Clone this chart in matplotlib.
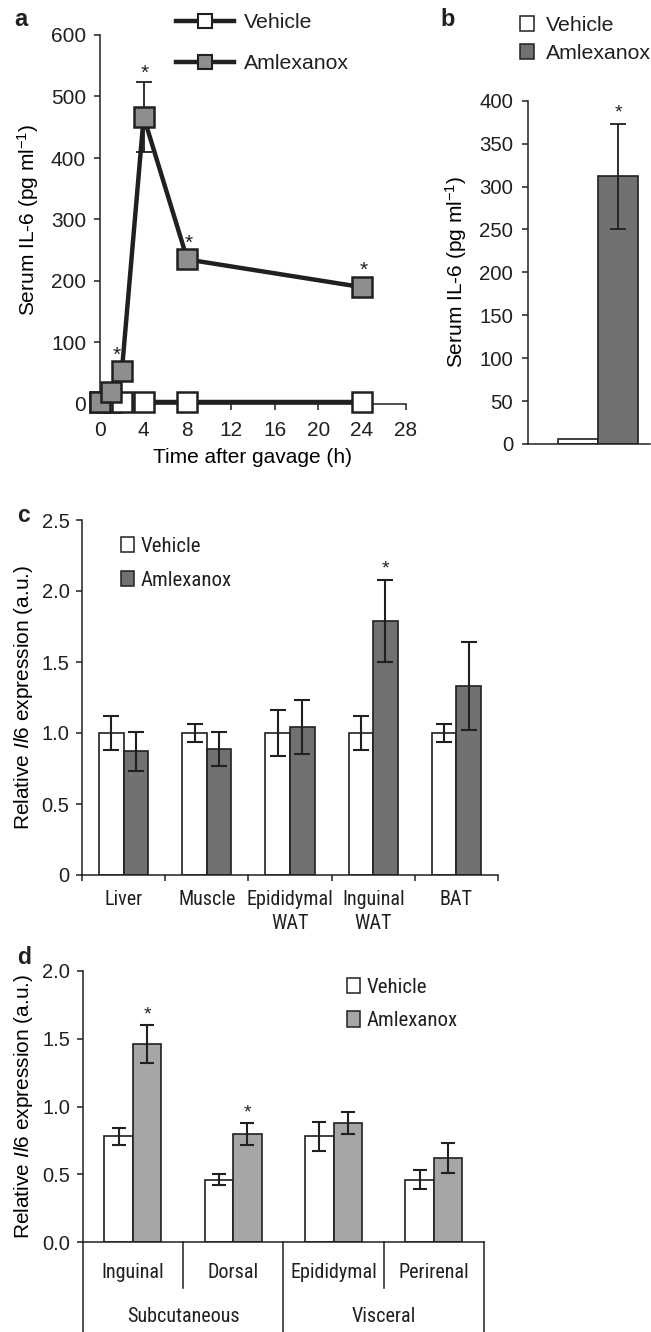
import matplotlib
matplotlib.use("Agg")
import matplotlib.pyplot as plt
from matplotlib.lines import Line2D
from matplotlib.patches import Patch
import numpy as np

W, H = 651, 1332
INK = '#231f20'
REG = ['Liberation Sans', 'DejaVu Sans']
NAR = ['Roboto Condensed', 'Liberation Sans', 'DejaVu Sans']

plt.rcParams['font.family'] = REG
plt.rcParams['mathtext.fontset'] = 'custom'
plt.rcParams['mathtext.it'] = 'Liberation Sans:italic'
plt.rcParams['mathtext.rm'] = 'Liberation Sans'
plt.rcParams['text.color'] = INK
plt.rcParams['axes.edgecolor'] = INK
plt.rcParams['xtick.color'] = INK
plt.rcParams['ytick.color'] = INK

# ---- data ----
# panel a: time course
time_h = [0, 1, 2, 4, 8, 24]
veh_a = [4, 4, 4, 4, 4, 4]
veh_a_err = [1, 1, 1, 1, 1, 1]
aml_a = [3, 20, 53, 467, 235, 190]
aml_a_err = [2, 5, 8, 57, 10, 10]
star_a = [2, 4, 8, 24]

# panel b: serum IL-6
groups_b = ['Vehicle', 'Amlexanox']
vals_b = [6, 312]
err_b = [0, 61]

# panel c: tissues
tissues_c = ['Liver', 'Muscle', 'Epididymal\nWAT', 'Inguinal\nWAT', 'BAT']
veh_c = [1.0, 1.0, 1.0, 1.0, 1.0]
veh_c_err = [0.12, 0.065, 0.16, 0.12, 0.065]
aml_c = [0.87, 0.89, 1.04, 1.79, 1.33]
aml_c_err = [0.14, 0.12, 0.19, 0.29, 0.31]

# panel d: fat depots
depots_d = ['Inguinal', 'Dorsal', 'Epididymal', 'Perirenal']
depot_types = ['Subcutaneous', 'Visceral']
veh_d = [0.78, 0.46, 0.78, 0.46]
veh_d_err = [0.06, 0.04, 0.11, 0.07]
aml_d = [1.46, 0.80, 0.88, 0.62]
aml_d_err = [0.14, 0.08, 0.08, 0.11]


def box(l, t, r, b):
    return [l / W, 1 - b / H, (r - l) / W, (b - t) / H]


def style_ax(ax, fs, pad=6):
    for s in ['top', 'right']:
        ax.spines[s].set_visible(False)
    for s in ['left', 'bottom']:
        ax.spines[s].set_linewidth(1.1)
    ax.tick_params(direction='out', length=4, width=1.1, labelsize=fs, pad=pad)


fig = plt.figure(figsize=(W / 100, H / 100), dpi=100)

# ================= a =================
ax = fig.add_axes(box(100, 35, 405.7, 404))
style_ax(ax, 15)
ax.tick_params(axis='x', pad=8)
ax.set_xlim(0, 28)
ax.set_ylim(0, 600)
ax.set_xticks(range(0, 29, 4))
ax.set_yticks(range(0, 601, 100))
ax.plot(time_h, veh_a, color=INK, lw=3.2, marker='s', ms=14, mfc='white',
        mec=INK, mew=1.8, clip_on=False, zorder=3)
ax.errorbar(time_h, aml_a, yerr=aml_a_err, fmt='none', ecolor=INK, elinewidth=1.3,
            capsize=6, capthick=1.3, zorder=3.5, clip_on=False)
ax.plot(time_h, aml_a, color=INK, lw=3.2, marker='s', ms=14, mfc='#8e8e8e',
        mec=INK, mew=1.8, clip_on=False, zorder=4)
for t in star_a:
    i = time_h.index(t)
    top = aml_a[i] + aml_a_err[i] if t == 4 else aml_a[i]
    dx = -4 if t == 2 else 1
    ax.annotate('*', (t, top), xytext=(dx, -1 if t == 4 else 5), textcoords='offset points',
                ha='center', va='bottom', fontsize=15)
ax.set_xlabel('Time after gavage (h)', fontsize=15, labelpad=6)
ax.set_ylabel('Serum IL-6 (pg ml$^{-1}$)', fontsize=15, labelpad=7)
h_a = [Line2D([], [], color=INK, lw=3.2, marker='s', ms=10, mfc='white', mec=INK, mew=1.5),
       Line2D([], [], color=INK, lw=3.2, marker='s', ms=10, mfc='#8e8e8e', mec=INK, mew=1.5)]
fig.legend(h_a, ['Vehicle', 'Amlexanox'], loc='upper left',
           bbox_to_anchor=(176 / W, 1 - 13 / H), frameon=False, fontsize=15.3,
           handlelength=2.75, handletextpad=0.45, labelspacing=1.05, borderpad=0,
           borderaxespad=0, numpoints=1)
fig.text(14 / W, 1 - 20 / H, 'a', fontsize=17, fontweight='bold', va='center')

# ================= b =================
ax = fig.add_axes(box(528.3, 100.7, 650, 444))
style_ax(ax, 14.7, pad=7)
ax.set_xlim(-1.25, 1.79)
ax.set_ylim(0, 400)
ax.set_yticks(range(0, 401, 50))
ax.set_xticks([])
ax.bar([0, 1], vals_b, width=1, color=['white', '#717171'], edgecolor=INK, linewidth=1.2)
ax.errorbar([1], vals_b[1:], yerr=err_b[1:], fmt='none', ecolor=INK, elinewidth=1.3,
            capsize=6, capthick=1.3)
ax.annotate('*', (1, vals_b[1] + err_b[1]), xytext=(0, 2), textcoords='offset points',
            ha='center', va='bottom', fontsize=14)
ax.set_ylabel('Serum IL-6 (pg ml$^{-1}$)', fontsize=15, labelpad=7)
h_b = [Patch(facecolor='white', edgecolor=INK, lw=1.1),
       Patch(facecolor='#717171', edgecolor=INK, lw=1.1)]
fig.legend(h_b, groups_b, loc='upper left', bbox_to_anchor=(520 / W, 1 - 16 / H),
           frameon=False, fontsize=15.3, handlelength=0.65, handleheight=0.65,
           handletextpad=0.55, labelspacing=0.42, borderpad=0, borderaxespad=0)
fig.text(440 / W, 1 - 20 / H, 'b', fontsize=17, fontweight='bold', va='center')

# ================= c =================
ax = fig.add_axes(box(82, 520, 498, 875))
style_ax(ax, 14.5, pad=5)
ax.set_xlim(0, 5)
ax.set_ylim(0, 2.5)
ax.set_yticks([0, 0.5, 1.0, 1.5, 2.0, 2.5])
ax.set_yticklabels(['0', '0.5', '1.0', '1.5', '2.0', '2.5'])
ax.set_xticks(range(0, 6))
ax.set_xticklabels([])
xc = np.arange(len(tissues_c)) + 0.5
ax.set_xticks(xc, minor=True)
ax.set_xticklabels(tissues_c, minor=True, family=NAR, fontsize=14.5, linespacing=1.3)
ax.tick_params(axis='x', which='minor', length=0, pad=11)
bw = 0.295
ax.bar(xc - bw / 2, veh_c, width=bw, color='white', edgecolor=INK, linewidth=1.2)
ax.bar(xc + bw / 2, aml_c, width=bw, color='#717171', edgecolor=INK, linewidth=1.2)
ax.errorbar(xc - bw / 2, veh_c, yerr=veh_c_err, fmt='none', ecolor=INK, elinewidth=1.5,
            capsize=5.5, capthick=1.5)
ax.errorbar(xc + bw / 2, aml_c, yerr=aml_c_err, fmt='none', ecolor=INK, elinewidth=1.5,
            capsize=5.5, capthick=1.5)
ax.annotate('*', (xc[3] + bw / 2, aml_c[3] + aml_c_err[3]), xytext=(0, 1.5),
            textcoords='offset points', ha='center', va='bottom', fontsize=14)
ax.set_ylabel('Relative $\\it{Il6}$ expression (a.u.)', fontsize=15, labelpad=5)
h_c = [Patch(facecolor='white', edgecolor=INK, lw=1.1),
       Patch(facecolor='#717171', edgecolor=INK, lw=1.1)]
ax.legend(h_c, ['Vehicle', 'Amlexanox'], loc='upper left',
          bbox_to_anchor=(121 / W, 1 - 537 / H), bbox_transform=fig.transFigure,
          frameon=False, prop={'family': NAR, 'size': 15}, handlelength=0.6,
          handleheight=0.75, handletextpad=0.35, labelspacing=0.72, borderpad=0,
          borderaxespad=0)
fig.text(17 / W, 1 - 516 / H, 'c', fontsize=16.5, fontweight='bold', va='center')

# ================= d =================
ax = fig.add_axes(box(82.7, 971, 484, 1242.3))
style_ax(ax, 14.5, pad=5)
ax.set_xlim(0, 4)
ax.set_ylim(0, 2.0)
ax.set_yticks([0, 0.5, 1.0, 1.5, 2.0])
ax.set_yticklabels(['0.0', '0.5', '1.0', '1.5', '2.0'])
ax.set_xticks([])
xd = np.arange(len(depots_d)) + 0.5
bw = 0.285
ax.bar(xd - bw / 2, veh_d, width=bw, color='white', edgecolor=INK, linewidth=1.2)
ax.bar(xd + bw / 2, aml_d, width=bw, color='#a6a6a6', edgecolor=INK, linewidth=1.2)
ax.errorbar(xd - bw / 2, veh_d, yerr=veh_d_err, fmt='none', ecolor=INK, elinewidth=1.5,
            capsize=5, capthick=1.5)
ax.errorbar(xd + bw / 2, aml_d, yerr=aml_d_err, fmt='none', ecolor=INK, elinewidth=1.5,
            capsize=5, capthick=1.5)
for i in [0, 1]:
    ax.annotate('*', (xd[i] + bw / 2, aml_d[i] + aml_d_err[i]), xytext=(0, 1),
                textcoords='offset points', ha='center', va='bottom', fontsize=14)
ax.set_ylabel('Relative $\\it{Il6}$ expression (a.u.)', fontsize=15, labelpad=5)
# category table under the axis
tr = ax.get_xaxis_transform()
for x in [0, 2, 4]:
    ax.plot([x, x], [0, -0.34], transform=tr, color=INK, lw=1.1, clip_on=False)
for x in [1, 3]:
    ax.plot([x, x], [0, -0.168], transform=tr, color=INK, lw=1.1, clip_on=False)
for x, lab in zip(xd, depots_d):
    ax.text(x, -0.11, lab, transform=tr, ha='center', va='center', family=NAR,
            fontsize=14.5)
for x, lab in zip([1, 3], depot_types):
    ax.text(x, -0.275, lab, transform=tr, ha='center', va='center', family=NAR,
            fontsize=14.5)
h_d = [Patch(facecolor='white', edgecolor=INK, lw=1.1),
       Patch(facecolor='#a6a6a6', edgecolor=INK, lw=1.1)]
ax.legend(h_d, ['Vehicle', 'Amlexanox'], loc='upper left',
          bbox_to_anchor=(347 / W, 1 - 978 / H), bbox_transform=fig.transFigure,
          frameon=False, prop={'family': NAR, 'size': 15}, handlelength=0.6,
          handleheight=0.75, handletextpad=0.35, labelspacing=0.68, borderpad=0,
          borderaxespad=0)
fig.text(17 / W, 1 - 958 / H, 'd', fontsize=16.5, fontweight='bold', va='center')

fig.savefig('out.png', dpi=100)
